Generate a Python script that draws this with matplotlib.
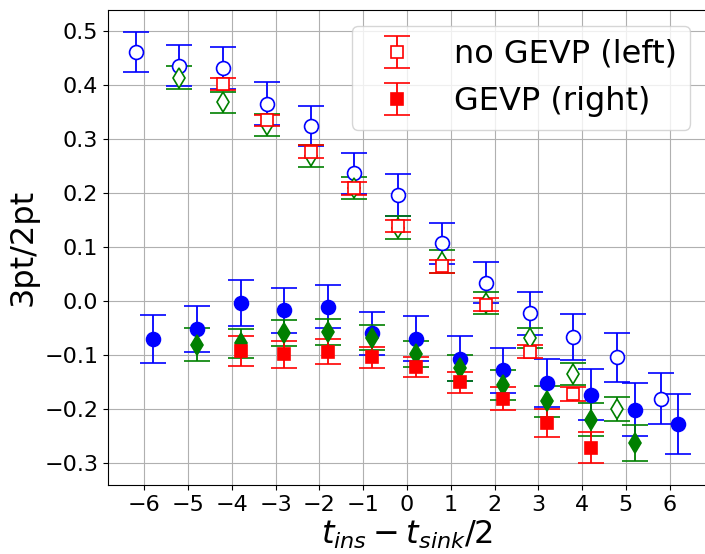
import numpy as np
import matplotlib
matplotlib.use("Agg")
from matplotlib import pyplot as plt

# insertion times relative to t_sink/2
t_blue = np.arange(-6, 7)
t_green = np.arange(-5, 6)
t_red = np.arange(-4, 5)

# no GEVP (left), open markers
blue_left = [0.461, 0.435, 0.430, 0.365, 0.323, 0.236, 0.196, 0.106, 0.033,
             -0.023, -0.067, -0.105, -0.181]
blue_left_err = [0.037, 0.038, 0.039, 0.039, 0.037, 0.038, 0.039, 0.038, 0.038,
                 0.040, 0.043, 0.045, 0.047]
green_left = [0.413, 0.367, 0.325, 0.268, 0.209, 0.135, 0.072, -0.004, -0.069,
              -0.135, -0.200]
green_left_err = [0.021, 0.020, 0.020, 0.021, 0.020, 0.021, 0.021, 0.020, 0.019,
                  0.020, 0.022]
red_left = [0.401, 0.334, 0.276, 0.208, 0.138, 0.064, -0.007, -0.094, -0.172]
red_left_err = [0.011, 0.010, 0.012, 0.012, 0.011, 0.012, 0.012, 0.012, 0.013]

# GEVP (right), filled markers
blue_right = [-0.071, -0.052, -0.004, -0.018, -0.011, -0.060, -0.070, -0.107,
              -0.129, -0.152, -0.174, -0.202, -0.228]
blue_right_err = [0.045, 0.042, 0.042, 0.041, 0.040, 0.040, 0.041, 0.041, 0.042,
                  0.044, 0.047, 0.049, 0.056]
green_right = [-0.081, -0.079, -0.059, -0.057, -0.068, -0.098, -0.124, -0.156,
               -0.186, -0.220, -0.263]
green_right_err = [0.030, 0.027, 0.024, 0.024, 0.023, 0.024, 0.024, 0.027, 0.029,
                   0.031, 0.034]
red_right = [-0.093, -0.099, -0.094, -0.105, -0.123, -0.151, -0.181, -0.227, -0.272]
red_right_err = [0.028, 0.025, 0.023, 0.020, 0.019, 0.020, 0.022, 0.026, 0.029]

shift = 0.2

fig = plt.figure(figsize=(7.05, 5.54), dpi=100)
ax = fig.add_axes([0.1532, 0.1245, 0.8482, 0.8574])

style = dict(linestyle='none', markersize=10, capsize=9.5, elinewidth=1.3,
             capthick=1.3, markeredgewidth=1.2)

ax.errorbar(t_blue - shift, blue_left, yerr=blue_left_err, marker='o', color='blue',
            markerfacecolor='white', **style)
ax.errorbar(t_blue + shift, blue_right, yerr=blue_right_err, marker='o', color='blue',
            **style)
ax.errorbar(t_green - shift, green_left, yerr=green_left_err, marker='d', color='green',
            markerfacecolor='white', **style)
ax.errorbar(t_green + shift, green_right, yerr=green_right_err, marker='d',
            color='green', **style)
ax.errorbar(t_red - shift, red_left, yerr=red_left_err, marker='s', color='red',
            markerfacecolor='white', label='no GEVP (left)',
            **{**style, 'markersize': 9})
ax.errorbar(t_red + shift, red_right, yerr=red_right_err, marker='s', color='red',
            label='GEVP (right)', **{**style, 'markersize': 9})

ax.set_xlim(-6.83, 6.83)
ax.set_ylim(-0.341, 0.538)
ax.set_xticks(np.arange(-6, 7))
ax.set_yticks(np.round(np.arange(-0.3, 0.51, 0.1), 1))
ax.tick_params(labelsize=16)
ax.grid(True)

ax.set_xlabel(r'$t_{ins} - t_{sink}/2$', fontsize=23, labelpad=3)
ax.set_ylabel('3pt/2pt', fontsize=23)
ax.legend(loc='upper right', fontsize=23)

fig.savefig('out.png', dpi=100)
